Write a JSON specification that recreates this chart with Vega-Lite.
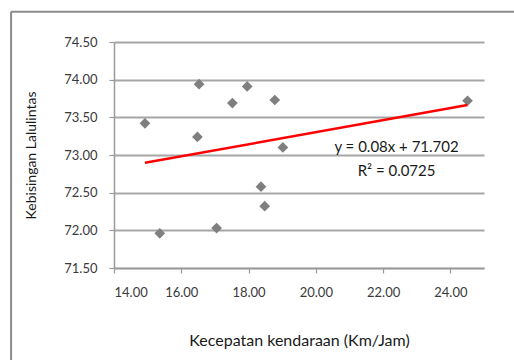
{
  "$schema": "https://vega.github.io/schema/vega-lite/v6.json",
  "autosize": {"type": "none"},
  "width": 370,
  "height": 226,
  "padding": {"left": 114, "top": 42, "right": 30, "bottom": 92},
  "background": "white",
  "config": {
    "view": {"stroke": null},
    "font": "Lato",
    "axis": {"labelFont": "Lato", "titleFont": "Lato", "labelColor": "#3a3a3a", "titleColor": "#1a1a1a", "labelFontSize": 13, "titleFontSize": 16, "titleFontWeight": "normal", "domainColor": "#9a9a9a", "tickColor": "#9a9a9a", "gridColor": "#a6a6a6", "domainWidth": 1.5, "tickWidth": 1.2, "gridWidth": 2, "labelOverlap": false}
  },
  "datasets": {
    "points": [
      {"speed": 14.92, "noise": 73.42},
      {"speed": 15.36, "noise": 71.96},
      {"speed": 16.53, "noise": 73.94},
      {"speed": 16.48, "noise": 73.24},
      {"speed": 17.05, "noise": 72.03},
      {"speed": 17.52, "noise": 73.69},
      {"speed": 17.96, "noise": 73.91},
      {"speed": 18.37, "noise": 72.58},
      {"speed": 18.48, "noise": 72.32},
      {"speed": 18.78, "noise": 73.73},
      {"speed": 19.02, "noise": 73.10},
      {"speed": 24.51, "noise": 73.72}
    ],
    "trend": [
      {"speed": 14.92, "noise": 72.896},
      {"speed": 24.51, "noise": 73.663}
    ],
    "labels": [
      {"speed": 22.4, "noise": 73.10, "text": "y = 0.08x + 71.702"},
      {"speed": 22.4, "noise": 72.79, "text": "R² = 0.0725"}
    ],
    "frame": [
      {"speed": 10.94, "speed2": 25.9, "noise": 74.9, "noise2": 74.9},
      {"speed": 10.94, "speed2": 10.94, "noise": 74.9, "noise2": 70.2}
    ]
  },
  "encoding": {
    "x": {"field": "speed", "type": "quantitative", "scale": {"domain": [14, 25], "nice": false, "zero": false},
      "axis": {"values": [14, 16, 18, 20, 22, 24], "format": ".2f", "grid": false, "tickSize": 5, "labelPadding": 13, "title": "Kecepatan  kendaraan (Km/Jam)", "titlePadding": 33}},
    "y": {"field": "noise", "type": "quantitative", "scale": {"domain": [71.5, 74.5], "nice": false, "zero": false},
      "axis": {"values": [71.5, 72, 72.5, 73, 73.5, 74, 74.5], "format": ".2f", "grid": true, "tickSize": 5, "labelPadding": 12, "title": "Kebisingan  Lalulintas", "titlePadding": 25, "titleFontSize": 14}}
  },
  "layer": [
    {
      "data": {"name": "points"},
      "mark": {"type": "point", "shape": "diamond", "filled": true, "color": "#7f7f7f", "opacity": 1, "size": 115}
    },
    {
      "data": {"name": "trend"},
      "mark": {"type": "line", "color": "#ff0000", "strokeWidth": 2.5}
    },
    {
      "data": {"name": "labels"},
      "mark": {"type": "text", "font": "Lato", "fontSize": 15, "color": "#1a1a1a"},
      "encoding": {"text": {"field": "text"}}
    },
    {
      "data": {"name": "frame"},
      "mark": {"type": "rule", "color": "#8c8c8c", "strokeWidth": 2, "clip": false},
      "encoding": {
        "x2": {"field": "speed2"},
        "y2": {"field": "noise2"}
      }
    }
  ]
}
